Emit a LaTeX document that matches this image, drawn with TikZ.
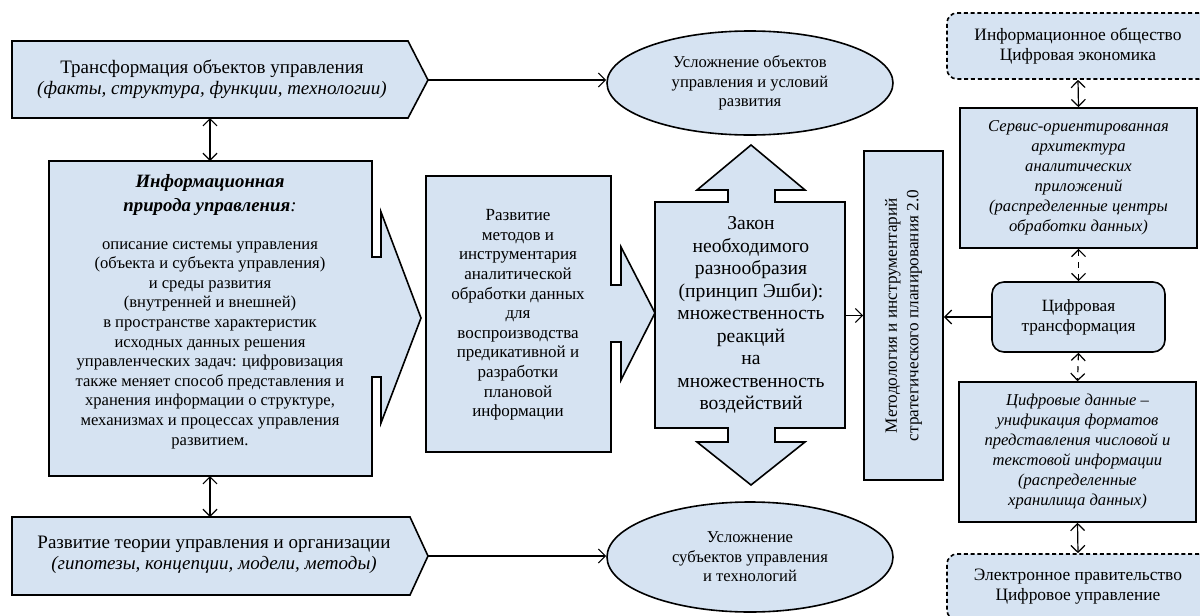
\documentclass[tikz,border=0pt]{standalone}
\usepackage{fontspec}
\setmainfont{Liberation Serif}
\usetikzlibrary{positioning, shapes.geometric, arrows.meta}
\definecolor{boxblue}{RGB}{214,227,242}

\begin{document}
\begin{tikzpicture}
    [x=0.5pt, y=-0.5pt, >={Straight Barb[length=3.5pt, width=7pt]},
    blockshape/.style={draw=black, thick, fill=boxblue},
    squarednode/.style={rectangle, draw=black, thick, fill=boxblue, inner sep=0pt, align=center},
    roundnode/.style={ellipse, draw=black, thick, fill=boxblue, inner sep=0pt, minimum width=143pt, align=center},
    dashednode/.style={rectangle, rounded corners=5pt, draw=black, thick, dash pattern=on 2pt off 1.4pt, fill=boxblue, inner sep=0pt, minimum width=131pt, minimum height=33pt, align=center},
    txt/.style={align=center, font=\fontsize{8.3}{9.8}\selectfont},
    itxt/.style={align=center, font=\fontsize{8.3}{10}\selectfont\itshape},
    link/.style={->, semithick}]

    \useasboundingbox (0,0) rectangle (1200,616);

    %Shapes
    \draw[blockshape] (12,41) -- (408,41) -- (428,80) -- (408,118) -- (12,118) -- cycle;
    \draw[blockshape] (12,517) -- (410,517) -- (428,556) -- (410,595) -- (12,595) -- cycle;
    \draw[blockshape] (49,161) -- (372,161) -- (372,257) -- (381,257) -- (381,212) -- (421,318)
        -- (381,423) -- (381,377) -- (372,377) -- (372,476) -- (49,476) -- cycle;
    \draw[blockshape] (426,176) -- (611,176) -- (611,285) -- (621,285) -- (621,247) -- (655,313)
        -- (621,380) -- (621,342) -- (611,342) -- (611,452) -- (426,452) -- cycle;
    \draw[blockshape] (655,202) -- (728,202) -- (728,190) -- (697,190) -- (751,145) -- (805,190)
        -- (775,190) -- (775,202) -- (845,202) -- (845,428) -- (775,428) -- (775,442) -- (805,442)
        -- (751,485) -- (697,442) -- (728,442) -- (728,428) -- (655,428) -- cycle;

    \coordinate (Ttip) at (428,80);
    \coordinate (Tbot) at (210,118);
    \coordinate (Itop) at (210,161);
    \coordinate (Ibot) at (210,476);
    \coordinate (Rtop) at (210,517);
    \coordinate (Rtip) at (428,556);
    \coordinate (Lright) at (845,315.5);

    %Nodes
    \node[txt, font=\fontsize{9.5}{10.4}\selectfont](T) at (212,79)
        {Трансформация объектов управления\\\textit{(факты, структура, функции, технологии)}};
    \node[txt, font=\fontsize{9.5}{10.4}\selectfont](R) at (214,555)
        {Развитие теории управления и организации\\\textit{(гипотезы, концепции, модели, методы)}};
    \node[txt, font=\fontsize{9.4}{11.8}\selectfont\bfseries\itshape](infoTitle) at (210,195)
        {Информационная\\природа управления\textmd{:}};
    \node[txt](infoBody) at (210,345)
        {описание системы управления\\(объекта и субъекта управления)\\и среды развития\\(внутренней и внешней)\\в пространстве характеристик\\исходных данных решения\\управленческих задач: цифровизация\\также меняет способ представления и\\хранения информации о структуре,\\механизмах и процессах управления\\развитием.};
    \node[txt, font=\fontsize{8.5}{9.8}\selectfont](dev) at (518,315)
        {Развитие\\методов и\\инструментария\\аналитической\\обработки данных\\для\\воспроизводства\\предикативной и\\разработки\\плановой\\информации};
    \node[txt, font=\fontsize{9.8}{11.25}\selectfont](law) at (751,315)
        {Закон\\необходимого\\разнообразия\\(принцип Эшби):\\множественность\\реакций\\на\\множественность\\воздействий};

    \node[roundnode, minimum height=52pt, txt](eTop) at (750,83)
        {Усложнение объектов\\управления и условий\\развития};
    \node[roundnode, minimum height=55pt, txt](eBot) at (750,557)
        {Усложнение\\субъектов управления\\и технологий};

    \node[squarednode, rotate=90, minimum width=164.5pt, minimum height=39.5pt,
        font=\fontsize{8.6}{10.8}\selectfont](meth) at (903.5,315.5)
        {Методология и инструментарий\\стратегического планирования 2.0};

    \node[dashednode, font=\fontsize{8.7}{10}\selectfont](soc) at (1078,46)
        {Информационное общество\\Цифровая экономика};
    \node[squarednode, minimum width=118.5pt, minimum height=70pt, itxt](soa) at (1078.5,178)
        {Сервис-ориентированная\\архитектура\\аналитических\\приложений\\(распределенные центры\\обработки данных)};
    \node[squarednode, rounded corners=6pt, minimum width=86.5pt, minimum height=35pt,
        font=\fontsize{8.6}{10}\selectfont](dtr) at (1078.5,317)
        {Цифровая\\трансформация};
    \node[squarednode, minimum width=118.5pt, minimum height=70pt, itxt](dd) at (1077.5,452)
        {Цифровые данные –\\унификация форматов\\представления числовой и\\текстовой информации\\(распределенные\\хранилища данных)};
    \node[dashednode, font=\fontsize{8.7}{10}\selectfont](gov) at (1078,587)
        {Электронное правительство\\Цифровое управление};

    %Lines
    \draw[<->, semithick](Tbot)--(Itop);
    \draw[<->, semithick](Ibot)--(Rtop);
    \draw[link](Ttip)--(Ttip -| eTop.west);
    \draw[link](Rtip)--(Rtip -| eBot.west);
    \draw[link](Lright)--(meth.north);
    \draw[link](dtr.west)--(dtr.west -| meth.south);

    \draw[<->, semithick](soc.south)--(soa.north);
    \draw[<->, semithick, dashed](soa.south)--(dtr.north);
    \draw[<->, semithick, dashed](dtr.south)--(dd.north);
    \draw[<->, semithick](dd.south)--(gov.north);
\end{tikzpicture}
\end{document}
